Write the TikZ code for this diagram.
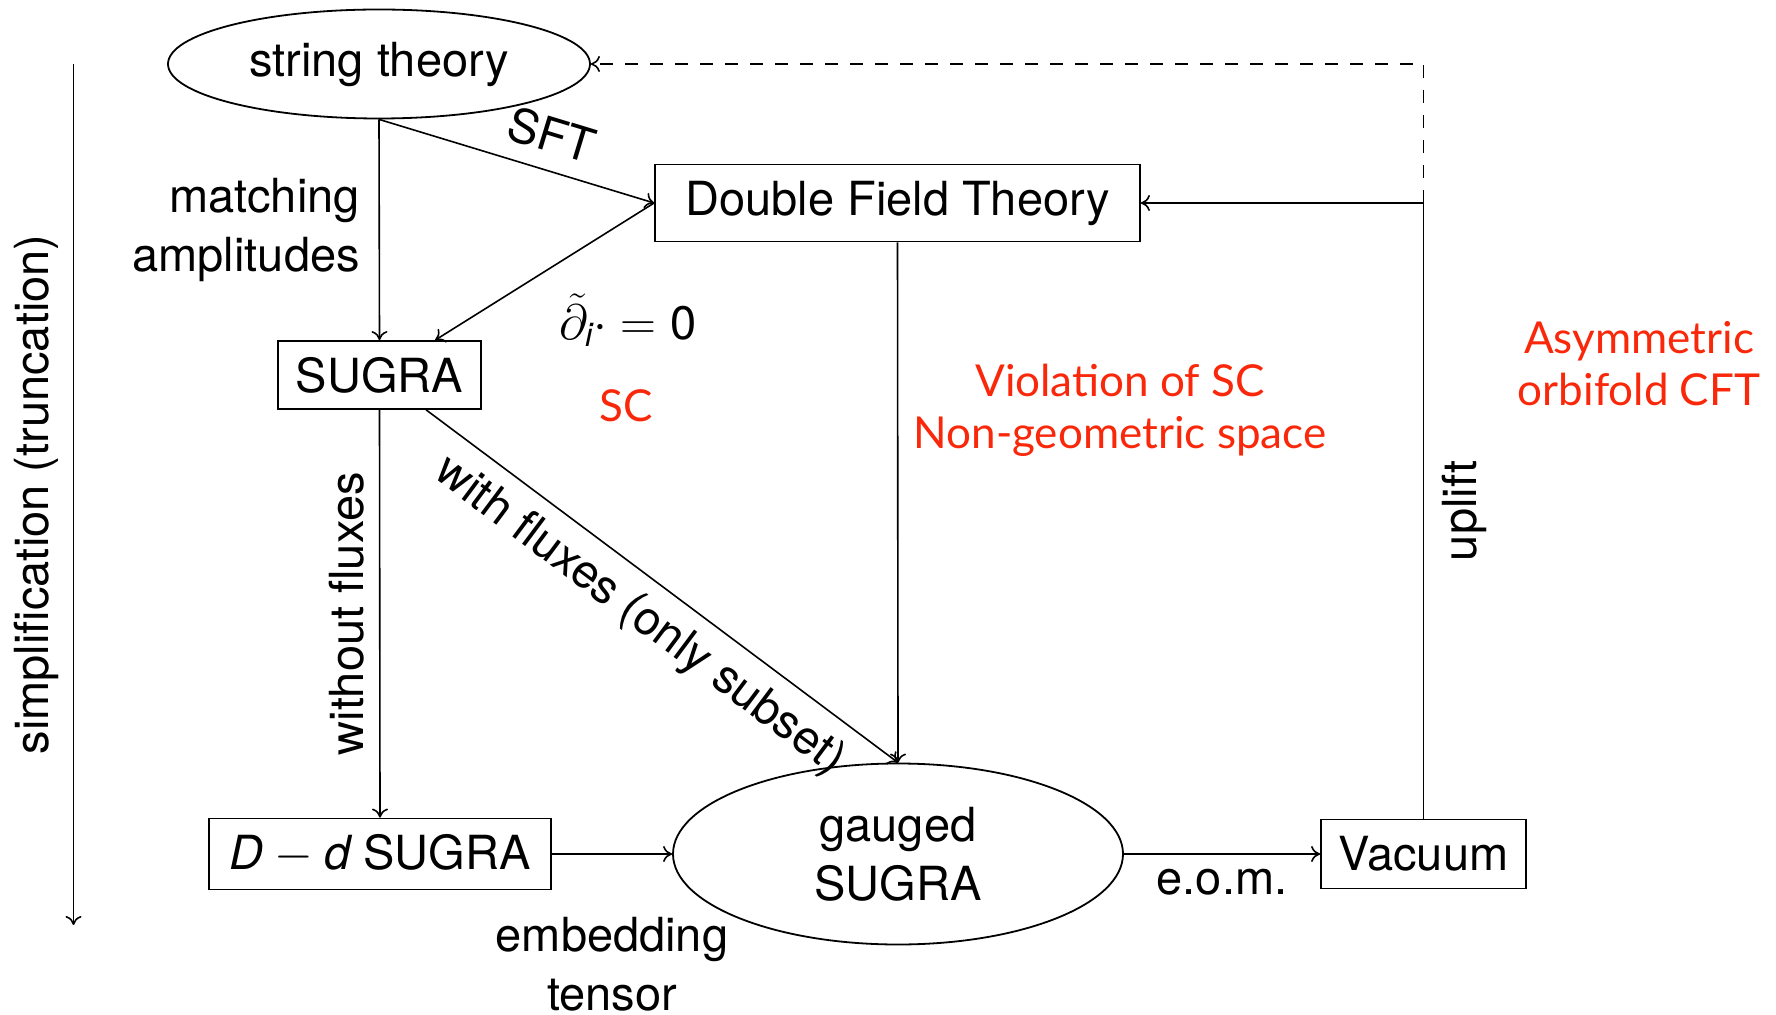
\documentclass[tikz,border=0pt]{standalone}
\usepackage{amsmath}
\usepackage{fontspec}
\setmainfont{TeX Gyre Heros}
\newfontfamily\redfont{Lato}
\usetikzlibrary{shapes.geometric,arrows.meta}
\definecolor{myred}{RGB}{250,40,10}
\begin{document}
\begin{tikzpicture}[x=0.5pt,y=-0.5pt,
  every node/.style={font=\fontsize{23.5}{29.5}\selectfont},
  box/.style={draw, rectangle, inner sep=0pt, line width=0.9pt},
  oval/.style={draw, ellipse, inner sep=0pt, line width=0.9pt},
  conn/.style={-{To[length=4.5pt,width=8pt]}, line width=0.8pt},
  redlab/.style={text=myred, font=\redfont\fontsize{22}{26}\selectfont, align=center}
]
\useasboundingbox (0,0) rectangle (1776,1015);

\node[oval, minimum width=211pt, minimum height=54.5pt] (st) at (379,64) {string theory};
\node[box, minimum width=242.5pt, minimum height=38.5pt] (dft) at (897.5,203) {Double Field Theory};
\node[box, minimum width=101.5pt, minimum height=34pt] (sugra) at (379.5,375) {SUGRA};
\node[box, minimum width=171pt, minimum height=35.5pt] (dd) at (380,854) {$\textit{D}-\textit{d}$ SUGRA};
\node[oval, minimum width=225pt, minimum height=90.5pt, align=center] (gs) at (898,854) {gauged\\SUGRA};
\node[box, minimum width=102.5pt, minimum height=34.5pt] (vac) at (1423.5,854) {Vacuum};

\coordinate (ltop) at (73.5,64);
\coordinate (lbot) at (73.5,925);
\coordinate (corner) at (vac.north |- dft.east);
\coordinate (topc) at (vac.north |- st.east);

\draw[conn] (ltop) -- (lbot) node[midway, rotate=90, anchor=south, inner sep=7pt] {simplification (truncation)};
\draw[conn] (st.south) -- (sugra.north) node[midway, left=6pt, align=right] {matching\\amplitudes};
\draw[conn] (st.south) -- (dft.west) node[pos=0.59, above=5pt, sloped] {SFT};
\draw[conn] (dft.west) -- (sugra);
\draw[conn] (sugra) -- (gs.north) node[midway, below=4pt, sloped] {with fluxes (only subset)};
\draw[conn] (dft.south) -- (gs.north);
\draw[conn] (sugra.south) -- (dd.north) node[midway, rotate=90, anchor=south, inner sep=7.5pt] {without fluxes};
\draw[conn] (dd.east) -- (gs.west) node[midway, below=28pt, align=center] {embedding\\tensor};
\draw[conn] (gs.east) -- (vac.west) node[midway, below=4pt] {e.o.m.};
\draw[conn] (vac.north) -- (corner) node[midway, rotate=90, anchor=north, inner sep=9pt] {uplift} -- (dft.east);
\draw[conn, dash pattern=on 6.5pt off 6pt] (corner) -- (topc) -- (st.east);

\node (cond) at (628,320) {$\tilde{\partial}_{\textit{i}}\cdot=\text{0}$};
\node[redlab] (sc) at (626,406) {SC};
\node[redlab] (viol) at (1120,410) {Violation of SC\\Non-geometric space};
\node[redlab] (asym) at (1639,364) {Asymmetric\\orbifold CFT};
\end{tikzpicture}
\end{document}
